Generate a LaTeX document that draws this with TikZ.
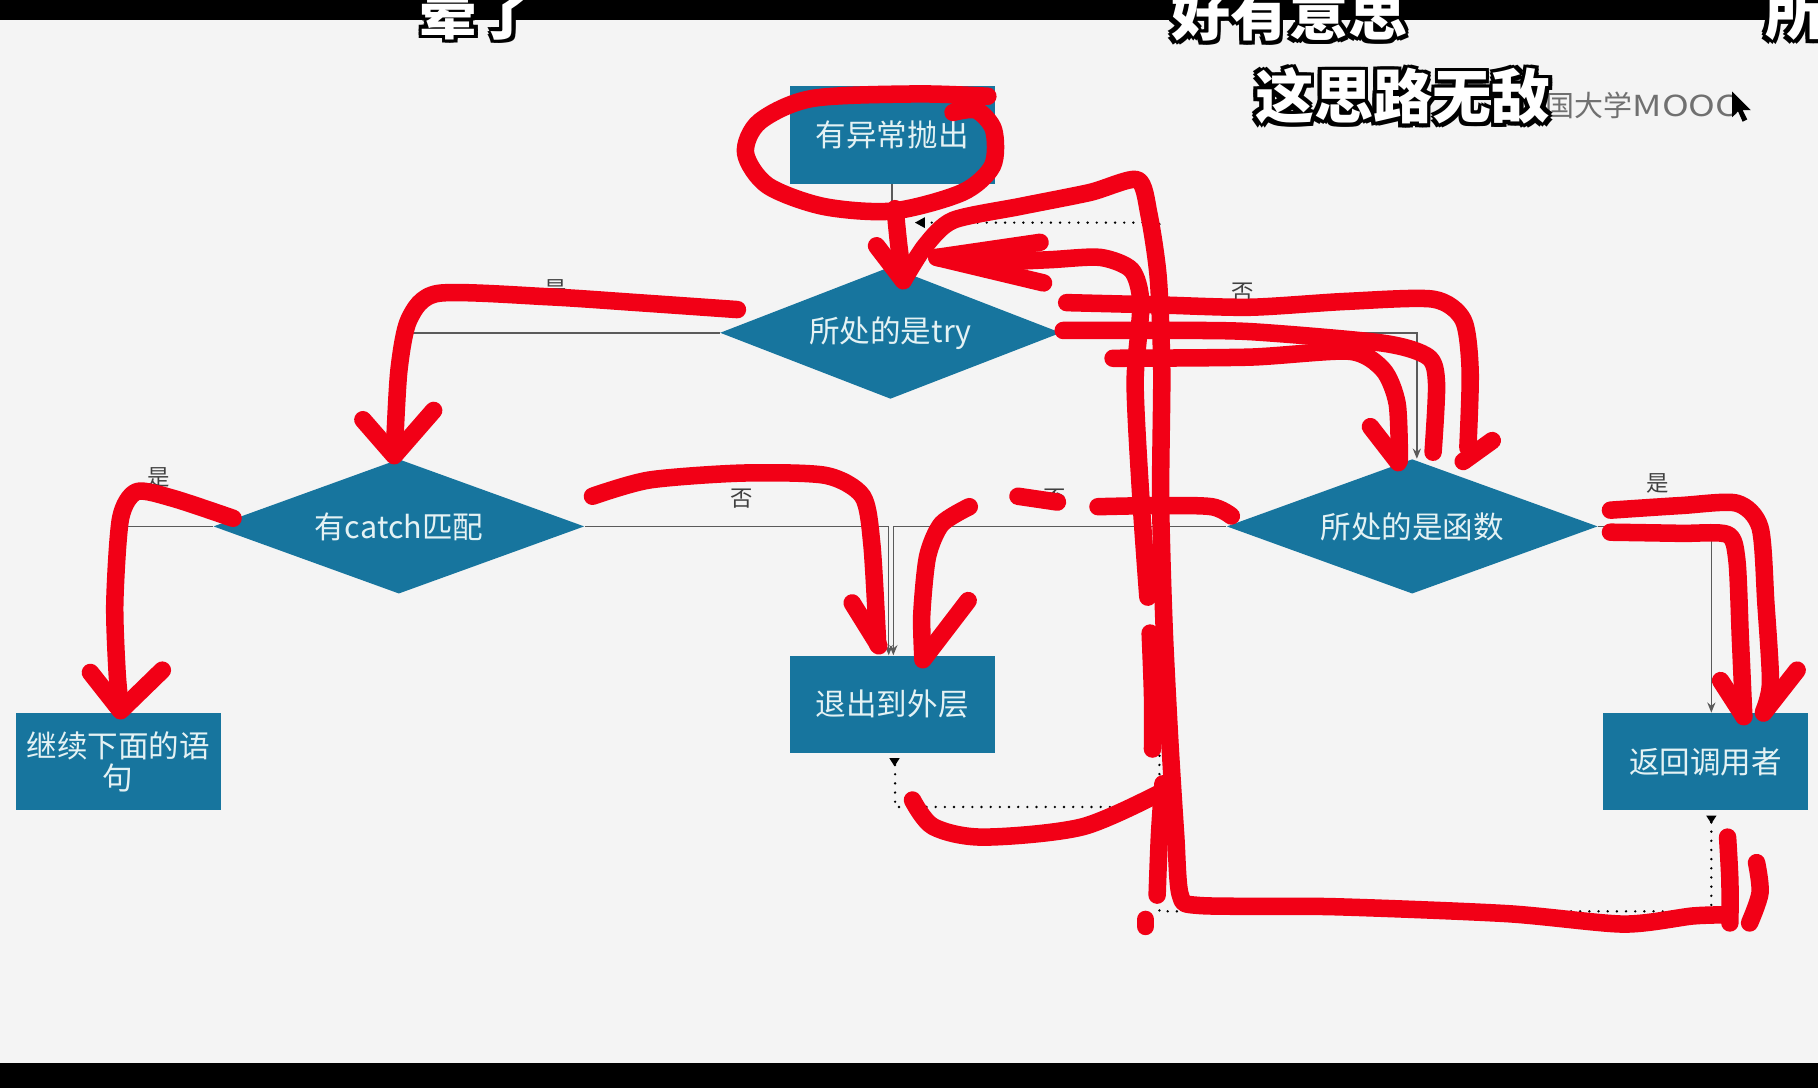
\documentclass[tikz,border=0pt]{standalone}
\usepackage{fontspec}
\setmainfont{Noto Sans CJK SC}
\newfontfamily\cjk{Noto Sans CJK SC}
\usetikzlibrary{shapes.geometric,arrows.meta,calc}
\definecolor{bg}{HTML}{F4F4F4}
\definecolor{nodeblue}{HTML}{17759E}
\definecolor{nodetext}{HTML}{E4F2F4}
\definecolor{ink}{HTML}{F20016}
\definecolor{connc}{HTML}{5A5A5A}
\definecolor{wm}{HTML}{707070}
\newlength\myolw \setlength\myolw{1.7pt}
\newcommand\olt[1]{{\color{black}%
\rlap{\kern-\myolw#1}\rlap{\kern\myolw#1}%
\rlap{\raisebox{\myolw}{#1}}\rlap{\raisebox{-\myolw}{#1}}%
\rlap{\kern-\myolw\raisebox{\myolw}{#1}}\rlap{\kern\myolw\raisebox{\myolw}{#1}}%
\rlap{\kern-\myolw\raisebox{-\myolw}{#1}}\rlap{\kern\myolw\raisebox{-\myolw}{#1}}}%
{\color{white}#1}}
\begin{document}
\begin{tikzpicture}[x=0.02cm,y=-0.02cm,
  box/.style={rectangle, fill=nodeblue, text=nodetext, minimum width=3.53cm, minimum height=1.68cm, inner sep=0pt, align=center, font=\fontsize{15}{15.4}\selectfont},
  dia/.style={diamond, fill=nodeblue, text=nodetext, inner sep=0pt, shape aspect=2.7, minimum width=6.4cm, minimum height=2.32cm, font=\fontsize{15}{15.4}\selectfont},
  conn/.style={draw=connc, line width=0.75pt, -{Stealth[length=5pt,width=4pt]}},
  lbl/.style={inner sep=0pt, text=black!75, font=\fontsize{11}{11}\selectfont},
  dotl/.style={draw=black, line width=1.3pt, dash pattern=on 0pt off 4.5pt, line cap=round},
  ink/.style={draw=ink, line width=8.6pt, line cap=round, line join=round},
  subt/.style={inner sep=0pt, font=\cjk\bfseries\fontsize{29}{29}\selectfont}]
\useasboundingbox (0,0) rectangle (1568,938);
\clip (0,0) rectangle (1568,938);
\fill[bg] (0,0) rectangle (1568,938);
\fill[black] (0,0) rectangle (1568,17);
\fill[black] (0,917) rectangle (1568,938);

% nodes
\node[box] (b1) at (769.5,116.5) {有异常抛出};
\node[dia, minimum width=5.88cm, minimum height=2.28cm] (try) at (768,287) {所处的是try};
\node[dia] (catch) at (344,454) {有catch匹配};
\node[dia] (func) at (1218,454) {所处的是函数};
\node[box] (b5) at (102,657) {继续下面的语\\句};
\node[box] (b6) at (769.5,607.5) {退出到外层};
\node[box] (b7) at (1471,657) {返回调用者};

% connectors
\draw[conn] (b1.south) -- (b1.south |- try.north);
\draw[conn] (try.west) -| (catch.north);
\draw[conn] (try.east) -| ([xshift=0.08cm]func.north);
\draw[conn] (catch.west) -| (b5.north);
\draw[conn] (catch.east) -| ([xshift=-0.06cm]b6.north);
\draw[conn] (func.west) -| ([xshift=0.02cm]b6.north);
\draw[conn] (func.east) -| ([xshift=0.1cm]b7.north);

% labels
\node[lbl] (l1) at (479,250) {是};
\node[lbl] (l2) at (1072,252) {否};
\node[lbl] (l3) at (137,412) {是};
\node[lbl] (l4) at (640,430) {否};
\node[lbl] (l5) at (910,430) {否};
\node[lbl] (l6) at (1430,417) {是};

% dotted return lines
\coordinate (ja) at (1000,696);
\coordinate (jb) at (1000,786);
\coordinate (jc) at (1000,192);
\coordinate (jd) at (789,192);
\draw[dotl, -{Triangle[length=5pt,width=5pt]}] ([xshift=0.05cm,yshift=-0.2cm]b6.south) |- (ja) -- (jc) -- (jd);
\draw[dotl, -{Triangle[length=5pt,width=5pt]}] ([xshift=0.1cm,yshift=-0.2cm]b7.south) |- (jb) -- ($(ja)+(0,10)$);
\fill[black] ($(b6.south)+(-2.5,4)$) -- ++(9,0) -- ++(-4.5,7) -- cycle;
\fill[black] ($(b7.south)+(0.5,4)$) -- ++(9,0) -- ++(-4.5,7) -- cycle;

% red annotations
\draw[ink] plot[smooth] coordinates {(852,83) (790,81) (700,85) (655,105) (643,132) (662,160) (710,178) (770,182) (830,166) (856,143) (857,112) (842,95) (822,97)};
\draw[ink] plot[smooth] coordinates {(772,180) (775,210) (779,241)};
\draw[ink] (756,212) -- (779,242);
\draw[ink] plot[smooth, tension=0.45] coordinates {(779,242) (798,212) (822,190) (880,178) (940,166) (981,155) (991,185) (999,240) (1002,320) (1001,431) (1004,540) (1009,640) (1014,720) (1018,772) (1035,781) (1150,782) (1300,788) (1400,797) (1460,790) (1490,789)};
\draw[ink] (897,209) -- (808,222) -- (900,244);
\draw[ink] plot[smooth, tension=0.45] coordinates {(808,222) (850,226) (905,224) (949,222) (976,233) (984,262) (979,330) (984,430) (990,515)};
\draw[ink] plot[smooth] coordinates {(992,546) (994,600) (994,646)};
\draw[ink] plot[smooth] coordinates {(1003,676) (1000,720) (998,772)};
\draw[ink] (988,793) -- (988,799);
\draw[ink] plot[smooth, tension=0.45] coordinates {(636,267) (550,261) (474,256) (378,253) (353,275) (344,320) (340,392)};
\draw[ink] (313,362) -- (340,393) -- (374,354);
\draw[ink] plot[smooth, tension=0.45] coordinates {(201,447) (150,430) (118,424) (104,447) (99,520) (101,580) (104,612)};
\draw[ink] (78,580) -- (104,613) -- (140,578);
\draw[ink] plot[smooth, tension=0.45] coordinates {(511,428) (560,414) (640,408) (712,410) (744,428) (752,470) (757,556)};
\draw[ink] (735,520) -- (758,557);
\draw[ink] plot[smooth, tension=0.45] coordinates {(836,437) (812,452) (800,480) (795,530) (796,568)};
\draw[ink] (835,518) -- (796,569);
\draw[ink] (878,428) -- (912,433);
\draw[ink] plot[smooth] coordinates {(947,437) (1000,436) (1045,437) (1062,445)};
\draw[ink] plot[smooth, tension=0.45] coordinates {(920,261) (1000,263) (1078,265) (1160,260) (1236,258) (1262,276) (1268,320) (1266,386)};
\draw[ink] (1287,380) -- (1262,398);
\draw[ink] plot[smooth, tension=0.45] coordinates {(917,285) (1000,285) (1078,286) (1193,296) (1232,308) (1239,331) (1236,390)};
\draw[ink] plot[smooth, tension=0.45] coordinates {(960,309) (1078,308) (1164,303) (1193,319) (1205,348) (1207,397)};
\draw[ink] (1182,368) -- (1206,399);
\draw[ink] plot[smooth, tension=0.45] coordinates {(1389,440) (1450,436) (1498,434) (1518,455) (1523,520) (1527,589) (1521,614)};
\draw[ink] (1550,578) -- (1521,615);
\draw[ink] plot[smooth, tension=0.45] coordinates {(1389,459) (1450,460) (1490,461) (1498,483) (1501,550) (1504,618)};
\draw[ink] (1484,587) -- (1504,618);
\draw[ink] plot[smooth] coordinates {(1490,722) (1492,760) (1492,796)};
\draw[ink] plot[smooth] coordinates {(1515,744) (1518,770) (1509,796)};
\draw[ink] plot[smooth] coordinates {(787,690) (805,713) (848,722) (934,713) (1006,681)};

% watermark and cursor
\node[inner sep=0pt, text=wm, font=\fontsize{14.2}{14.2}\selectfont, anchor=west] (wmk) at (1333,91) {国大学\scalebox{1.25}[1]{MOOC}};
\fill[black] (1494,79) -- (1494,101) -- (1499,96) -- (1503,105) -- (1507,103) -- (1503,95) -- (1510,95) -- cycle;

% subtitles
\node[subt] (s1) at (412,11) {\olt{晕了}};
\node[subt] (s2) at (1112,11) {\olt{好有意思}};
\node[subt, anchor=west] (s3) at (1522,11) {\olt{所}};
\node[subt] (s4) at (1210,83) {\olt{这思路无敌}};
\end{tikzpicture}
\end{document}
